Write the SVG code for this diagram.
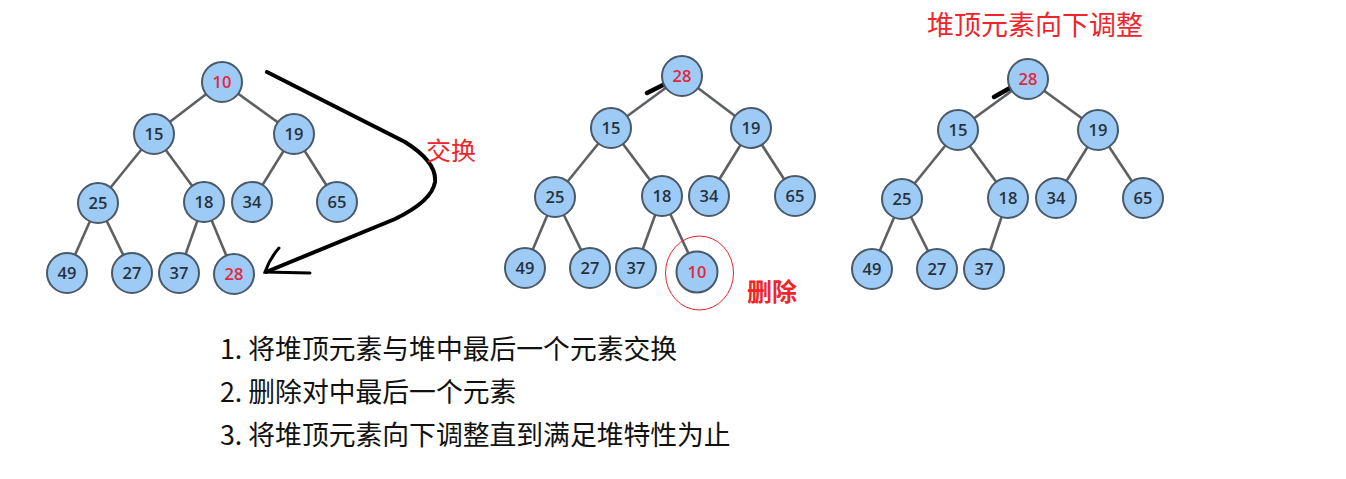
<svg xmlns="http://www.w3.org/2000/svg" width="1346" height="479" viewBox="0 0 1346 479">
<style>
.e{stroke:#5d6063;stroke-width:2.6;fill:none}
.n{fill:#9dcbf6;stroke:#4a5966;stroke-width:2}
.t{font-family:"Open Sans","Noto Sans",sans-serif;font-weight:600;font-size:16.5px;fill:#26323d;text-anchor:middle}
.r{fill:#e3263d}
.cn{font-family:"Noto Sans CJK SC",sans-serif}
.red{fill:#f0252b}
.blk{fill:#111}
.mk{stroke:#000;stroke-width:4.5;stroke-linecap:round;fill:none}
</style>
<rect width="1346" height="479" fill="#fff"/>

<g id="connectors">
  <!-- tree 1 -->
  <line class="e" x1="222" y1="82" x2="154" y2="134"/>
  <line class="e" x1="222" y1="82" x2="294" y2="134"/>
  <line class="e" x1="154" y1="134" x2="98" y2="203"/>
  <line class="e" x1="154" y1="134" x2="204" y2="202"/>
  <line class="e" x1="294" y1="134" x2="252" y2="202"/>
  <line class="e" x1="294" y1="134" x2="337" y2="202"/>
  <line class="e" x1="98" y1="203" x2="67" y2="273"/>
  <line class="e" x1="98" y1="203" x2="132" y2="273"/>
  <line class="e" x1="204" y1="202" x2="179" y2="273"/>
  <line class="e" x1="204" y1="202" x2="234" y2="274"/>
  <!-- tree 2 -->
  <line class="e" x1="682" y1="76" x2="611" y2="128"/>
  <line class="e" x1="682" y1="76" x2="751" y2="128"/>
  <line class="e" x1="611" y1="128" x2="555" y2="197"/>
  <line class="e" x1="611" y1="128" x2="662" y2="196"/>
  <line class="e" x1="751" y1="128" x2="709" y2="196"/>
  <line class="e" x1="751" y1="128" x2="795" y2="196"/>
  <line class="e" x1="555" y1="197" x2="525" y2="268"/>
  <line class="e" x1="555" y1="197" x2="590" y2="268"/>
  <line class="e" x1="662" y1="196" x2="636" y2="268"/>
  <line class="e" x1="662" y1="196" x2="697" y2="272"/>
  <!-- tree 3 -->
  <line class="e" x1="1028" y1="79" x2="958" y2="130"/>
  <line class="e" x1="1028" y1="79" x2="1098" y2="130"/>
  <line class="e" x1="958" y1="130" x2="902" y2="199"/>
  <line class="e" x1="958" y1="130" x2="1008" y2="198"/>
  <line class="e" x1="1098" y1="130" x2="1056" y2="198"/>
  <line class="e" x1="1098" y1="130" x2="1143" y2="198"/>
  <line class="e" x1="902" y1="199" x2="872" y2="269"/>
  <line class="e" x1="902" y1="199" x2="937" y2="269"/>
  <line class="e" x1="1008" y1="198" x2="984" y2="269"/>
  <!-- swap arrow -->
  <path d="M267,72 L405,142 Q437,162 435,182 Q432,201 395,219 L266,272" stroke="#000" stroke-width="4" fill="none" stroke-linecap="round"/>
  <path d="M279,248 Q270,258 265,272 L310,273" stroke="#000" stroke-width="3" fill="none" stroke-linecap="round"/>
  <!-- black marks -->
  <line class="mk" x1="647" y1="93" x2="663" y2="85"/>
  <line class="mk" x1="994" y1="97" x2="1010" y2="88"/>
</g>

<g id="tree1">
  <g id="t1-10"><circle class="n" cx="222" cy="82" r="20"/><text class="t r" x="222" y="88">10</text></g>
  <g id="t1-15"><circle class="n" cx="154" cy="134" r="20"/><text class="t" x="154" y="140">15</text></g>
  <g id="t1-19"><circle class="n" cx="294" cy="134" r="20"/><text class="t" x="294" y="140">19</text></g>
  <g id="t1-25"><circle class="n" cx="98" cy="203" r="20"/><text class="t" x="98" y="209">25</text></g>
  <g id="t1-18"><circle class="n" cx="204" cy="202" r="20"/><text class="t" x="204" y="208">18</text></g>
  <g id="t1-34"><circle class="n" cx="252" cy="202" r="20"/><text class="t" x="252" y="208">34</text></g>
  <g id="t1-65"><circle class="n" cx="337" cy="202" r="20"/><text class="t" x="337" y="208">65</text></g>
  <g id="t1-49"><circle class="n" cx="67" cy="273" r="20"/><text class="t" x="67" y="279">49</text></g>
  <g id="t1-27"><circle class="n" cx="132" cy="273" r="20"/><text class="t" x="132" y="279">27</text></g>
  <g id="t1-37"><circle class="n" cx="179" cy="273" r="20"/><text class="t" x="179" y="279">37</text></g>
  <g id="t1-28"><circle class="n" cx="234" cy="274" r="20"/><text class="t r" x="234" y="280">28</text></g>
  <text class="cn red" x="426" y="160" font-size="25">交换</text>
</g>

<g id="tree2">
  <g id="t2-28"><circle class="n" cx="682" cy="76" r="20"/><text class="t r" x="682" y="82">28</text></g>
  <g id="t2-15"><circle class="n" cx="611" cy="128" r="20"/><text class="t" x="611" y="134">15</text></g>
  <g id="t2-19"><circle class="n" cx="751" cy="128" r="20"/><text class="t" x="751" y="134">19</text></g>
  <g id="t2-25"><circle class="n" cx="555" cy="197" r="20"/><text class="t" x="555" y="203">25</text></g>
  <g id="t2-18"><circle class="n" cx="662" cy="196" r="20"/><text class="t" x="662" y="202">18</text></g>
  <g id="t2-34"><circle class="n" cx="709" cy="196" r="20"/><text class="t" x="709" y="202">34</text></g>
  <g id="t2-65"><circle class="n" cx="795" cy="196" r="20"/><text class="t" x="795" y="202">65</text></g>
  <g id="t2-49"><circle class="n" cx="525" cy="268" r="20"/><text class="t" x="525" y="274">49</text></g>
  <g id="t2-27"><circle class="n" cx="590" cy="268" r="20"/><text class="t" x="590" y="274">27</text></g>
  <g id="t2-37"><circle class="n" cx="636" cy="268" r="20"/><text class="t" x="636" y="274">37</text></g>
  <g id="t2-10"><circle class="n" cx="697" cy="272" r="20.5"/><text class="t r" x="697" y="278">10</text></g>
  <ellipse cx="699.5" cy="273" rx="34" ry="37" fill="none" stroke="#e8232b" stroke-width="1"/>
  <text class="cn red" x="747" y="301" font-size="25" font-weight="700">删除</text>
</g>

<g id="tree3">
  <text class="cn red" x="927" y="35" font-size="27">堆顶元素向下调整</text>
  <g id="t3-28"><circle class="n" cx="1028" cy="79" r="20"/><text class="t r" x="1028" y="85">28</text></g>
  <g id="t3-15"><circle class="n" cx="958" cy="130" r="20"/><text class="t" x="958" y="136">15</text></g>
  <g id="t3-19"><circle class="n" cx="1098" cy="130" r="20"/><text class="t" x="1098" y="136">19</text></g>
  <g id="t3-25"><circle class="n" cx="902" cy="199" r="20"/><text class="t" x="902" y="205">25</text></g>
  <g id="t3-18"><circle class="n" cx="1008" cy="198" r="20"/><text class="t" x="1008" y="204">18</text></g>
  <g id="t3-34"><circle class="n" cx="1056" cy="198" r="20"/><text class="t" x="1056" y="204">34</text></g>
  <g id="t3-65"><circle class="n" cx="1143" cy="198" r="20"/><text class="t" x="1143" y="204">65</text></g>
  <g id="t3-49"><circle class="n" cx="872" cy="269" r="20"/><text class="t" x="872" y="275">49</text></g>
  <g id="t3-27"><circle class="n" cx="937" cy="269" r="20"/><text class="t" x="937" y="275">27</text></g>
  <g id="t3-37"><circle class="n" cx="984" cy="269" r="20"/><text class="t" x="984" y="275">37</text></g>
</g>

<g id="steps" class="cn blk" font-size="26.8">
  <text x="220" y="358.5">1. 将堆顶元素与堆中最后一个元素交换</text>
  <text x="220" y="401.5">2. 删除对中最后一个元素</text>
  <text x="220" y="445">3. 将堆顶元素向下调整直到满足堆特性为止</text>
</g>
</svg>
